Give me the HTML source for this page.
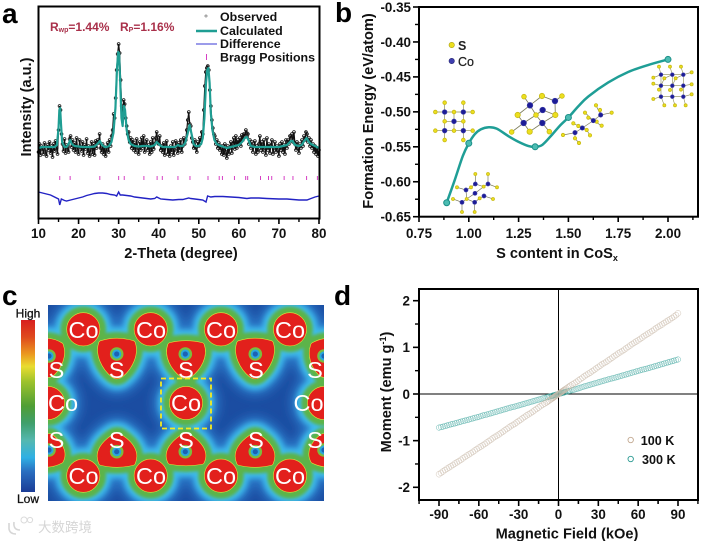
<!DOCTYPE html>
<html lang="en">
<head>
<meta charset="utf-8">
<title>CoSx characterisation figure</title>
<style>
html,body{margin:0;padding:0;background:#fff;}
#fig{display:block;width:702px;height:541px;font-family:"Liberation Sans",Arial,sans-serif;filter:blur(.35px);}
.tick{font-size:13.4px;font-weight:bold;fill:#111;}
.title{font-size:14.6px;font-weight:bold;fill:#111;text-anchor:middle;}
.leg{font-size:12.4px;font-weight:bold;fill:#111;}
.letter{font-size:28px;font-weight:bold;fill:#000;}
.w{fill:#fff;font-size:23.5px;text-anchor:middle;}
.sAtom{fill:#ecdf1e;stroke:#c9bb14;stroke-width:2.4;}
.coAtom{fill:#1c1c96;stroke:#3c3ca8;stroke-width:2;}
</style>
</head>
<body>
<svg id="fig" xmlns="http://www.w3.org/2000/svg" width="702" height="541" viewBox="0 0 702 541">
<defs>
  <linearGradient id="barGrad" x1="0" y1="0" x2="0" y2="1">
    <stop offset="0" stop-color="#d81f1f"/><stop offset=".1" stop-color="#df4a1e"/>
    <stop offset=".2" stop-color="#eb9a20"/><stop offset=".27" stop-color="#e9dc30"/>
    <stop offset=".36" stop-color="#9cc22c"/><stop offset=".5" stop-color="#4f9e35"/>
    <stop offset=".6" stop-color="#3f9f6c"/><stop offset=".7" stop-color="#55b8b0"/>
    <stop offset=".8" stop-color="#2fb0e4"/><stop offset=".88" stop-color="#2a6fc0"/>
    <stop offset="1" stop-color="#1b3c96"/>
  </linearGradient>
  <filter id="b6" x="-10%" y="-10%" width="120%" height="120%"><feGaussianBlur stdDeviation="5"/></filter>
  <filter id="b4" x="-10%" y="-10%" width="120%" height="120%"><feGaussianBlur stdDeviation="2.6"/></filter>
  <filter id="b2" x="-10%" y="-10%" width="120%" height="120%"><feGaussianBlur stdDeviation="1.5"/></filter>
  <filter id="b0" x="-10%" y="-10%" width="120%" height="120%"><feGaussianBlur stdDeviation=".35"/></filter>
  <clipPath id="mapClip"><rect x="48" y="305" width="276" height="196"/></clipPath>
  <g id="lobes">
    <circle cx="83.3" cy="329.3" r="14.3"/><circle cx="150.7" cy="329.3" r="14.3"/><circle cx="221" cy="329.3" r="14.3"/><circle cx="290" cy="329.3" r="14.3"/>
    <circle cx="83.3" cy="475.7" r="14.3"/><circle cx="150.7" cy="475.7" r="14.3"/><circle cx="221" cy="475.7" r="14.3"/><circle cx="290" cy="475.7" r="14.3"/>
    <circle cx="186" cy="403" r="14.3"/><circle cx="48" cy="403" r="14.3"/><circle cx="324" cy="403" r="14.3"/>
    <path d="M101,343Q117,338 133,343C137,354 130,368 121,375Q117,378 113,375C104,368 97,354 101,343Z"/>
    <path d="M170,345Q186,341 202,345C206,356 199,368 190,375Q186,378 182,375C173,368 166,356 170,345Z"/>
    <path d="M239,343Q255,338 271,343C275,354 268,368 259,375Q255,378 251,375C242,368 235,354 239,343Z"/>
    <path d="M36,342Q50,338 61,345C65,356 59,367 53,373Q49,377 45,373Z"/>
    <path d="M313,345Q325,338 340,342L328,373Q324,377 320,373C314,367 309,356 313,345Z"/>
    <path d="M101,463Q117,467 133,463C138,452 130,443 121,437Q117,434 113,437C104,443 96,452 101,463Z"/>
    <path d="M170,462Q186,465 202,462C207,452 199,443 190,437Q186,434 182,437C173,443 165,452 170,462Z"/>
    <path d="M239,463Q255,467 271,463C276,452 268,443 259,437Q255,434 251,437C242,443 234,452 239,463Z"/>
    <path d="M36,464Q50,467 61,461C66,452 59,443 53,438Q49,434 45,438Z"/>
    <path d="M313,461Q325,467 340,464L328,438Q324,434 320,438C314,443 308,452 313,461Z"/>
  </g>
</defs>
<rect width="702" height="541" fill="#fff"/>

<text class="letter" x="2" y="23">a</text>
<text class="letter" x="335" y="22">b</text>
<text class="letter" x="2" y="305">c</text>
<text class="letter" x="334" y="305">d</text>

<!-- PANEL A -->
<g id="panelA">
  <text class="title" transform="translate(31,107) rotate(-90)">Intensity (a.u.)</text>
  <text class="title" x="181" y="258">2-Theta (degree)</text>
  <text x="50" y="31" font-size="12" font-weight="bold" fill="#a9304a">R<tspan font-size="7" dy="1">wp</tspan><tspan dy="-1">=1.44%</tspan></text>
  <text x="120" y="31" font-size="12" font-weight="bold" fill="#a9304a">R<tspan font-size="7" dy="1">P</tspan><tspan dy="-1">=1.16%</tspan></text>
  <g>
    <circle cx="206" cy="16" r="1.1" fill="none" stroke="#666" stroke-width=".6"/>
    <line x1="196" x2="217" y1="31" y2="31" stroke="#1f9e93" stroke-width="2.4"/>
    <line x1="196" x2="217" y1="44" y2="44" stroke="#3a3ad4" stroke-width="1"/>
    <line x1="206.5" x2="206.5" y1="54" y2="60" stroke="#d63fc4" stroke-width="1"/>
    <text class="leg" x="220" y="21">Observed</text>
    <text class="leg" x="220" y="35">Calculated</text>
    <text class="leg" x="220" y="48">Difference</text>
    <text class="leg" x="220" y="61.5">Bragg Positions</text>
  </g>
</g>

<!-- PANEL B -->
<g id="panelB">
  <text class="title" transform="translate(373,111) rotate(-90)">Formation Energy (eV/atom)</text>
  <text class="title" x="557" y="258">S content in CoS<tspan font-size="9" dy="3">x</tspan></text>
  <g>
    <circle cx="451.7" cy="45" r="2.7" fill="#ecdf1e" stroke="#a99c12" stroke-width=".6"/>
    <circle cx="451.7" cy="61" r="2.7" fill="#3f3fb0" stroke="#24246e" stroke-width=".6"/>
    <text x="458" y="50" font-size="12.5" font-weight="bold" fill="#222">S</text>
    <text x="458" y="66" font-size="12.5" fill="#222" stroke="#222" stroke-width=".25">Co</text>
  </g>
  <g transform="translate(425,90) scale(.3333)">
    <path d="M59,38V150M115,38V150M31,66H143M31,122H143M59,94H115M87,66V122" stroke="#8a8a55" stroke-width="2" fill="none"/>
    <g><circle class="sAtom" cx="59" cy="38" r="5.5"/><circle class="sAtom" cx="115" cy="38" r="5.5"/><circle class="sAtom" cx="31" cy="66" r="5.5"/><circle class="sAtom" cx="87" cy="66" r="5.5"/><circle class="sAtom" cx="143" cy="66" r="5.5"/><circle class="sAtom" cx="59" cy="94" r="5.5"/><circle class="sAtom" cx="115" cy="94" r="5.5"/><circle class="sAtom" cx="31" cy="122" r="5.5"/><circle class="sAtom" cx="87" cy="122" r="5.5"/><circle class="sAtom" cx="143" cy="122" r="5.5"/><circle class="sAtom" cx="59" cy="150" r="5.5"/><circle class="sAtom" cx="115" cy="150" r="5.5"/></g>
    <g><circle class="coAtom" cx="59" cy="66" r="7"/><circle class="coAtom" cx="115" cy="66" r="7"/><circle class="coAtom" cx="87" cy="94" r="7"/><circle class="coAtom" cx="59" cy="122" r="7"/><circle class="coAtom" cx="115" cy="122" r="7"/></g>
  </g>
  <g transform="translate(425,90) scale(.3333)">
    <path d="M151,252V282L138,292M151,282L176,290M189,252V282L216,292M189,282L176,290M96,292L123,300L138,292M123,300L125,327M84,327L111,337L125,327M111,337V366M149,366V337L164,325M125,327L149,337M150,310L176,290M150,310L125,327M177,318L204,327M177,318L164,325" stroke="#77775a" stroke-width="2" fill="none"/>
    <g><circle class="sAtom" cx="151" cy="252" r="4.5"/><circle class="sAtom" cx="189" cy="252" r="4.5"/><circle class="sAtom" cx="96" cy="292" r="4.5"/><circle class="sAtom" cx="138" cy="292" r="4.5"/><circle class="sAtom" cx="176" cy="290" r="4.5"/><circle class="sAtom" cx="216" cy="292" r="4.5"/><circle class="sAtom" cx="84" cy="327" r="4.5"/><circle class="sAtom" cx="125" cy="327" r="4.5"/><circle class="sAtom" cx="164" cy="325" r="4.5"/><circle class="sAtom" cx="204" cy="327" r="4.5"/><circle class="sAtom" cx="111" cy="366" r="4.5"/><circle class="sAtom" cx="149" cy="366" r="4.5"/></g>
    <g><circle class="coAtom" cx="151" cy="282" r="6"/><circle class="coAtom" cx="189" cy="282" r="6"/><circle class="coAtom" cx="123" cy="300" r="6"/><circle class="coAtom" cx="150" cy="310" r="6"/><circle class="coAtom" cx="177" cy="318" r="6"/><circle class="coAtom" cx="111" cy="337" r="6"/><circle class="coAtom" cx="149" cy="337" r="6"/></g>
  </g>
  <g transform="translate(425,90) scale(.3333)">
    <path d="M297,20L315,46L351,18M315,46L278,75M315,46L333,75M351,18L390,33L411,18M390,33L391,75M353,60L333,75M353,60L391,75M278,75L296,99L260,126M296,99L333,75M296,99L314,125M352,99L333,75M352,99L391,75M352,99L314,125M352,99L373,125" stroke="#7b7b5a" stroke-width="2.5" fill="none"/>
    <g><circle class="sAtom" cx="297" cy="20" r="7"/><circle class="sAtom" cx="351" cy="18" r="8"/><circle class="sAtom" cx="411" cy="18" r="7"/><circle class="sAtom" cx="278" cy="75" r="8"/><circle class="sAtom" cx="333" cy="75" r="7"/><circle class="sAtom" cx="391" cy="75" r="8"/><circle class="sAtom" cx="314" cy="125" r="8"/><circle class="sAtom" cx="373" cy="125" r="7"/><circle class="sAtom" cx="260" cy="126" r="7"/></g>
    <g><circle class="coAtom" cx="315" cy="46" r="8.5"/><circle class="coAtom" cx="353" cy="60" r="8.5"/><circle class="coAtom" cx="390" cy="33" r="8.5"/><circle class="coAtom" cx="296" cy="99" r="8.5"/><circle class="coAtom" cx="352" cy="99" r="8.5"/></g>
  </g>
  <g transform="translate(555,55) scale(.3333)">
    <path d="M123,151L137,180L170,173M137,180L135,165M137,180L115,197L90,173M115,197L100,188M115,197L140,212M115,197L82,219L55,205M82,219L70,213M82,219L95,225L105,241M82,219L60,233L24,240M60,233L60,250L72,264" stroke="#7b7b5a" stroke-width="2" fill="none"/>
    <g><circle class="sAtom" cx="123" cy="151" r="5"/><circle class="sAtom" cx="170" cy="173" r="5"/><circle class="sAtom" cx="90" cy="173" r="5"/><circle class="sAtom" cx="100" cy="188" r="5"/><circle class="sAtom" cx="135" cy="165" r="5"/><circle class="sAtom" cx="140" cy="212" r="5"/><circle class="sAtom" cx="125" cy="200" r="5"/><circle class="sAtom" cx="55" cy="205" r="5"/><circle class="sAtom" cx="70" cy="213" r="5"/><circle class="sAtom" cx="95" cy="225" r="5"/><circle class="sAtom" cx="105" cy="241" r="5"/><circle class="sAtom" cx="24" cy="240" r="5"/><circle class="sAtom" cx="60" cy="250" r="5"/><circle class="sAtom" cx="72" cy="264" r="5"/></g>
    <g><circle class="coAtom" cx="137" cy="180" r="6.5"/><circle class="coAtom" cx="115" cy="197" r="6.5"/><circle class="coAtom" cx="82" cy="219" r="6.5"/><circle class="coAtom" cx="60" cy="233" r="6.5"/></g>
  </g>
  <g transform="translate(555,55) scale(.3333)">
    <path d="M312,35L318,59L295,68M345,35L352,59L328,70M378,35L385,59L362,70M410,52L385,59M295,86L318,92L328,70M352,92L362,70M385,92L410,88M318,92L312,104M352,92L345,105M385,92L378,104M295,132L318,125L328,151M352,125L360,151M385,125L392,151M385,125L410,118M318,59V125M352,59V125M385,59V125M318,92H385M318,125H385M318,59H385" stroke="#8a8a55" stroke-width="1.8" fill="none"/>
    <g><circle class="sAtom" cx="312" cy="35" r="4.5"/><circle class="sAtom" cx="345" cy="35" r="4.5"/><circle class="sAtom" cx="378" cy="35" r="4.5"/><circle class="sAtom" cx="410" cy="52" r="4.5"/><circle class="sAtom" cx="295" cy="68" r="4.5"/><circle class="sAtom" cx="295" cy="86" r="4.5"/><circle class="sAtom" cx="328" cy="70" r="4.5"/><circle class="sAtom" cx="362" cy="70" r="4.5"/><circle class="sAtom" cx="410" cy="88" r="4.5"/><circle class="sAtom" cx="312" cy="104" r="4.5"/><circle class="sAtom" cx="345" cy="105" r="4.5"/><circle class="sAtom" cx="378" cy="104" r="4.5"/><circle class="sAtom" cx="295" cy="132" r="4.5"/><circle class="sAtom" cx="410" cy="118" r="4.5"/><circle class="sAtom" cx="328" cy="151" r="4.5"/><circle class="sAtom" cx="360" cy="151" r="4.5"/><circle class="sAtom" cx="392" cy="151" r="4.5"/></g>
    <g><circle class="coAtom" cx="318" cy="59" r="5.5"/><circle class="coAtom" cx="352" cy="59" r="5.5"/><circle class="coAtom" cx="385" cy="59" r="5.5"/><circle class="coAtom" cx="318" cy="92" r="5.5"/><circle class="coAtom" cx="352" cy="92" r="5.5"/><circle class="coAtom" cx="385" cy="92" r="5.5"/><circle class="coAtom" cx="318" cy="125" r="5.5"/><circle class="coAtom" cx="352" cy="125" r="5.5"/><circle class="coAtom" cx="385" cy="125" r="5.5"/></g>
  </g>
</g>

<!-- PANEL C -->
<g>
  <rect x="21" y="320" width="14" height="172" fill="url(#barGrad)"/>
  <text x="28" y="317.5" text-anchor="middle" font-size="12" fill="#111" stroke="#111" stroke-width=".3">High</text>
  <text x="28" y="503" text-anchor="middle" font-size="12" fill="#111" stroke="#111" stroke-width=".3">Low</text>
  <g clip-path="url(#mapClip)">
    <rect x="48" y="305" width="276" height="196" fill="#1b4da2"/>
    <use href="#lobes" fill="#2a78c8" stroke="#2a78c8" stroke-width="38" stroke-linejoin="round" filter="url(#b6)"/>
    <use href="#lobes" fill="#3cbcec" stroke="#3cbcec" stroke-width="27" stroke-linejoin="round" filter="url(#b4)"/>
    <use href="#lobes" fill="#5cb44a" stroke="#5cb44a" stroke-width="17" stroke-linejoin="round" filter="url(#b2)"/>
    <use href="#lobes" fill="#e6dc3a" stroke="#e6dc3a" stroke-width="5.2" stroke-linejoin="round" filter="url(#b0)"/>
    <use href="#lobes" fill="#e2201c" stroke="#e2201c" stroke-width="4" stroke-linejoin="round"/>
    <g>
      <g fill="#7cbc3e" filter="url(#b0)"><circle cx="116.7" cy="354" r="6.8"/><circle cx="185.3" cy="354" r="6.8"/><circle cx="255.3" cy="354" r="6.8"/><circle cx="49" cy="356" r="6.8"/><circle cx="324" cy="356" r="6.8"/><circle cx="116.7" cy="451.7" r="6.8"/><circle cx="185.3" cy="451.7" r="6.8"/><circle cx="255.3" cy="451.7" r="6.8"/><circle cx="49" cy="450" r="6.8"/><circle cx="324" cy="450" r="6.8"/></g>
      <g fill="#2aa8dc" filter="url(#b0)"><circle cx="116.7" cy="354" r="4.6"/><circle cx="185.3" cy="354" r="4.6"/><circle cx="255.3" cy="354" r="4.6"/><circle cx="49" cy="356" r="4.6"/><circle cx="324" cy="356" r="4.6"/><circle cx="116.7" cy="451.7" r="4.6"/><circle cx="185.3" cy="451.7" r="4.6"/><circle cx="255.3" cy="451.7" r="4.6"/><circle cx="49" cy="450" r="4.6"/><circle cx="324" cy="450" r="4.6"/></g>
      <g fill="#1f62b4" filter="url(#b0)"><circle cx="116.7" cy="354" r="2.6"/><circle cx="185.3" cy="354" r="2.6"/><circle cx="255.3" cy="354" r="2.6"/><circle cx="49" cy="356" r="2.6"/><circle cx="324" cy="356" r="2.6"/><circle cx="116.7" cy="451.7" r="2.6"/><circle cx="185.3" cy="451.7" r="2.6"/><circle cx="255.3" cy="451.7" r="2.6"/><circle cx="49" cy="450" r="2.6"/><circle cx="324" cy="450" r="2.6"/></g>
    </g>
    <g>
      <text class="w" x="83.5" y="338">Co</text><text class="w" x="151" y="338">Co</text><text class="w" x="221" y="338">Co</text><text class="w" x="290" y="338">Co</text>
      <text class="w" x="83.5" y="484">Co</text><text class="w" x="151" y="484">Co</text><text class="w" x="221" y="484">Co</text><text class="w" x="290" y="484">Co</text>
      <text class="w" x="186" y="411">Co</text><text class="w" x="63" y="411">Co</text><text class="w" x="308.5" y="411">Co</text>
      <text class="w" x="116.7" y="378">S</text><text class="w" x="186" y="378">S</text><text class="w" x="256" y="378">S</text><text class="w" x="56.5" y="378">S</text><text class="w" x="315" y="378">S</text>
      <text class="w" x="116.7" y="448">S</text><text class="w" x="186" y="448">S</text><text class="w" x="256" y="448">S</text><text class="w" x="56.5" y="448">S</text><text class="w" x="315" y="448">S</text>
    </g>
    <rect x="161" y="378.5" width="50" height="50" fill="none" stroke="#f6ea20" stroke-width="1.8" stroke-dasharray="5 3"/>
  </g>
</g>

<!-- watermark -->
<g opacity=".75">
  <path d="M9,523V529Q10,534 16,534M14,522Q13,530 20,530" fill="none" stroke="#c9c9c9" stroke-width="1.6"/>
  <circle cx="24" cy="520" r="3" fill="none" stroke="#cfcfcf" stroke-width="1"/>
  <circle cx="30" cy="520" r="2.6" fill="none" stroke="#cfcfcf" stroke-width="1"/>
  <text x="38" y="532" font-size="13.5" fill="#c8c8c8" style="font-family:'Liberation Sans','Noto Sans CJK SC',sans-serif">大数跨境</text>
</g>

<!-- PANEL D -->
<g id="panelD">
  <text class="title" transform="translate(391,392) rotate(-90)">Moment (emu g<tspan font-size="9" dy="-5">-1</tspan><tspan dy="5">)</tspan></text>
  <text class="title" x="567" y="538.5">Magnetic Field (kOe)</text>
  <text class="leg" x="640.7" y="445" style="font-size:12.6px">100 K</text>
  <text class="leg" x="642" y="464" style="font-size:12.6px">300 K</text>
</g>

<script>
// ---------- Panel A data (2-theta in degrees, intensity in arbitrary units) ----------
const xrdTicks = [10,20,30,40,50,60,70,80];
const xrdMinorTicks = [15,25,35,45,55,65,75];
const obsStart = 10;
const obsStep = 0.25;
const observed = [
66,74,63,72, 69,64,75,66, 62,73,68,76, 65,72,61,74, 67,77,70,64,
88,112,108,84, 74,67,79,65, 73,69,66,79, 82,71,78,68, 75,66,80,69,
64,78,71,67, 76,63,73,69, 79,65,72,62, 68,76,64,74, 63,77,70,78,
75,84,70,66, 74,64,71,62, 69,75,66,78, 72,82,88,104, 100,120,148,164,
174,165,138,112, 100,118,114,100, 92,84,86,76, 80,70,78,68, 75,66,79,70,
64,76,68,80, 70,82,66,74, 78,68,73,64, 76,66,80,69, 74,80,86,78,
74,82,68,72, 66,75,63,72, 77,64,70,62, 72,66,76,63, 68,77,72,65,
75,68,78,66, 72,80,74,78, 88,98,106,94, 92,80,76,70, 78,70,66,76,
72,80,76,86, 84,108,132,146, 150,152,148,128, 112,98,90,84, 82,74,78,70,
75,68,72,64, 72,63,74,66, 60,72,64,70, 76,65,74,80, 69,82,70,78,
74,80,72,83, 78,84,82,88, 85,84,74,78, 70,76,66,72, 77,64,72,66,
74,82,68,76, 66,78,70,63, 80,68,74,65, 72,78,64,70, 76,66,72,68,
62,74,68,76, 66,73,64,78, 70,78,74,82, 80,84,76,86, 74,68,76,70,
65,74,70,78, 72,82,78,86, 84,76,80,72, 78,70,74,66, 72,64,70,62, 68];
const calcTheta = [10,11,12,13,14,14.6,15,15.2,15.4,15.6,15.9,16.5,17,17.5,17.9,18.3,19,20,21,22,23,24,24.7,25.3,25.9,26.5,27,27.6,28.2,28.7,29.2,29.6,29.9,30.1,30.4,30.7,31,31.3,31.6,32,32.5,33,34,35,36,37,38,39,39.5,40,40.5,41,42,43,44,44.8,45.3,46,46.6,47.2,47.7,48.2,48.7,49.2,50,50.6,51,51.4,51.8,52.1,52.4,52.7,53,53.4,53.9,54.5,55.5,57,58,59,60,60.8,61.5,62,62.5,63,64,66,68,70,71,72,73,73.4,74,75,75.7,76.3,76.9,77.5,78,79,80];
const calcIntensity = [70,71,71,71,71,73,90,108,110,95,76,71,71,74,78,74,72,71.5,71,71,71,71.5,74,77,73,71,71,72,76,85,110,150,166,165,135,100,92,112,108,88,78,74,72,71.5,72,72,71.5,73,76,74,72,71,71,71,71,73,72,72,75,84,93,84,74,72,72,74,80,100,135,148,150,135,105,88,78,74,72,70,71,72,73,76,80,81,77,72,71,71,71,71,72,73,77,77,73,72,73,77,80,76,74,72,70];
const diffTheta = [10,11,12,13,14,15,15.3,15.7,16.5,17,18,19,20,21,22,23,24,25,26,27,28,29,29.5,30,30.4,31,32,33,34,35,36,37,38,39,39.5,40.5,42,43.5,45,46,47.5,48,49,50,51,51.8,52.2,53,54,56,58,60,62,63,65,67,70,72,75,77,78,79,80];
const diffIntensity = [26,25,24,23,21,19,13,19,17.5,17,18,19,20,21,22.5,23.5,24.5,25,25,24.5,23.5,23,22,26,23,23,22.5,22,21,20.5,20,19.5,19,19.5,21,19,18.5,18,18.5,18.5,20,19.5,19,18.5,18,16,22,21,21.5,21.5,21,20.5,19.5,20,20,19.5,19,19,18,18,19.5,21,22];
const braggPositions = [15.3,17.9,25.3,30,31.4,36.3,39.6,40.9,44.8,47.8,52.3,55.1,55.9,58.9,61.7,62.2,65.4,67.4,68.2,71.3,73.5,76.9,79.6];
const braggLevel = 40;

// ---------- Panel B data ----------
const energyXTicks = [0.75,1.00,1.25,1.50,1.75,2.00];
const energyYTicks = [-0.35,-0.40,-0.45,-0.50,-0.55,-0.60,-0.65];
const phaseContent = [0.889,1.0,1.333,1.5,2.0];
const phaseEnergy = [-0.63,-0.545,-0.55,-0.508,-0.425];
const curveContent = [0.889,0.93,0.97,1.0,1.03,1.06,1.10,1.14,1.2,1.25,1.3,1.333,1.37,1.42,1.46,1.5,1.55,1.6,1.7,1.8,1.9,2.0];
const curveEnergy = [-0.63,-0.597,-0.563,-0.545,-0.532,-0.525,-0.522,-0.524,-0.535,-0.543,-0.549,-0.55,-0.547,-0.532,-0.519,-0.508,-0.492,-0.478,-0.458,-0.443,-0.433,-0.425];

// ---------- Panel D data ----------
const fieldTicks = [-90,-60,-30,0,30,60,90];
const momentTicks = [2,1,0,-1,-2];
const field = [
-90,-88.5,-87,-85.5,-84,-82.5,-81,-79.5,-78,-76.5,-75,-73.5,-72,-70.5,-69,-67.5,-66,-64.5,-63,-61.5,-60,-58.5,-57,-55.5,-54,-52.5,-51,-49.5,-48,-46.5,-45,-43.5,-42,-40.5,-39,-37.5,-36,-34.5,-33,-31.5,-30,-28.5,-27,-25.5,-24,-22.5,-21,-19.5,-18,-16.5,-15,-13.5,-12,-10.5,
-9,-8,-7,-6,-5,-4.5,-4,-3.5,-3,-2.5,-2,-1.5,-1,-0.5,0,0.5,1,1.5,2,2.5,3,3.5,4,4.5,5,6,7,8,9,
10.5,12,13.5,15,16.5,18,19.5,21,22.5,24,25.5,27,28.5,30,31.5,33,34.5,36,37.5,39,40.5,42,43.5,45,46.5,48,49.5,51,52.5,54,55.5,57,58.5,60,61.5,63,64.5,66,67.5,69,70.5,72,73.5,75,76.5,78,79.5,81,82.5,84,85.5,87,88.5,90];
const moment100K = [
-1.72,-1.69,-1.66,-1.63,-1.60,-1.575,-1.55,-1.52,-1.49,-1.465,-1.44,-1.41,-1.38,-1.35,-1.32,-1.295,-1.27,-1.24,-1.21,-1.18,-1.15,-1.125,-1.10,-1.07,-1.04,-1.01,-0.98,-0.95,-0.92,-0.895,-0.87,-0.84,-0.81,-0.78,-0.75,-0.72,-0.69,-0.665,-0.64,-0.61,-0.58,-0.55,-0.52,-0.49,-0.46,-0.435,-0.41,-0.38,-0.35,-0.32,-0.29,-0.26,-0.23,-0.205,
-0.18,-0.16,-0.14,-0.12,-0.10,-0.09,-0.08,-0.07,-0.06,-0.05,-0.04,-0.03,-0.02,-0.01,0,0.01,0.02,0.03,0.04,0.05,0.06,0.07,0.08,0.09,0.10,0.12,0.14,0.16,0.18,
0.205,0.23,0.26,0.29,0.32,0.35,0.38,0.41,0.435,0.46,0.49,0.52,0.55,0.58,0.61,0.64,0.665,0.69,0.72,0.75,0.78,0.81,0.84,0.87,0.895,0.92,0.95,0.98,1.01,1.04,1.07,1.10,1.125,1.15,1.18,1.21,1.24,1.27,1.295,1.32,1.35,1.38,1.41,1.44,1.465,1.49,1.52,1.55,1.575,1.60,1.63,1.66,1.69,1.73];
const moment300K = [
-0.72,-0.71,-0.70,-0.688,-0.675,-0.663,-0.65,-0.64,-0.63,-0.618,-0.605,-0.593,-0.58,-0.57,-0.56,-0.548,-0.535,-0.523,-0.51,-0.50,-0.49,-0.475,-0.46,-0.45,-0.44,-0.428,-0.415,-0.403,-0.39,-0.378,-0.365,-0.353,-0.34,-0.328,-0.315,-0.303,-0.29,-0.28,-0.27,-0.258,-0.245,-0.233,-0.22,-0.208,-0.195,-0.183,-0.17,-0.158,-0.145,-0.133,-0.12,-0.108,-0.095,-0.083,
-0.07,-0.065,-0.055,-0.05,-0.04,-0.037,-0.03,-0.028,-0.025,-0.02,-0.015,-0.012,-0.01,-0.005,0,0.005,0.01,0.012,0.015,0.02,0.025,0.028,0.03,0.037,0.04,0.05,0.055,0.065,0.07,
0.083,0.095,0.108,0.12,0.135,0.15,0.163,0.175,0.188,0.2,0.213,0.225,0.238,0.25,0.263,0.275,0.288,0.3,0.313,0.325,0.335,0.345,0.358,0.37,0.383,0.395,0.408,0.42,0.433,0.445,0.458,0.47,0.483,0.495,0.508,0.52,0.53,0.54,0.553,0.565,0.578,0.59,0.603,0.615,0.628,0.64,0.653,0.665,0.678,0.69,0.703,0.715,0.728,0.74];

// ---------- helpers ----------
const NS = 'http://www.w3.org/2000/svg';
function make(parent, tag, attrs) {
  const e = document.createElementNS(NS, tag);
  for (const k in attrs) e.setAttribute(k, attrs[k]);
  parent.appendChild(e);
  return e;
}
function smoothPath(pts) {
  let d = 'M' + pts[0][0].toFixed(2) + ',' + pts[0][1].toFixed(2);
  for (let i = 0; i < pts.length - 1; i++) {
    const p0 = pts[Math.max(i - 1, 0)], p1 = pts[i], p2 = pts[i + 1], p3 = pts[Math.min(i + 2, pts.length - 1)];
    const c1x = p1[0] + (p2[0] - p0[0]) / 6, c1y = p1[1] + (p2[1] - p0[1]) / 6;
    const c2x = p2[0] - (p3[0] - p1[0]) / 6, c2y = p2[1] - (p3[1] - p1[1]) / 6;
    d += 'C' + c1x.toFixed(2) + ',' + c1y.toFixed(2) + ' ' + c2x.toFixed(2) + ',' + c2y.toFixed(2) + ' ' + p2[0].toFixed(2) + ',' + p2[1].toFixed(2);
  }
  return d;
}
function linePath(pts) {
  return 'M' + pts.map(p => p[0].toFixed(2) + ',' + p[1].toFixed(2)).join('L');
}

// ---------- Panel A ----------
const pa = document.getElementById('panelA');
const xA = v => 38.5 + (v - 10) * (319 - 38.5) / 70;
const yA = v => 218 - v;
const obsTrace = make(pa, 'path', {d: linePath(observed.map((v, i) => [xA(obsStart + i * obsStep), yA(v)])), fill: 'none', stroke: '#111', 'stroke-width': 1.2});


const obsGroup = make(pa, 'g', {fill: 'none', stroke: '#111', 'stroke-width': 0.8});


observed.forEach((v, i) => {
  const c = make(obsGroup, 'circle', {cx: xA(obsStart + i * obsStep), cy: yA(v), r: 1.4});
  
  
});
const calcLine = make(pa, 'path', {d: linePath(calcTheta.map((t, i) => [xA(t), yA(calcIntensity[i])])), fill: 'none', stroke: '#1f9e93', 'stroke-width': 2.2, 'stroke-linejoin': 'round'});


const diffLine = make(pa, 'path', {d: linePath(diffTheta.map((t, i) => [xA(t), yA(diffIntensity[i])])), fill: 'none', stroke: '#2222c4', 'stroke-width': 1.4});


braggPositions.forEach(t => {
  const b = make(pa, 'line', {x1: xA(t), x2: xA(t), y1: yA(braggLevel) - 2, y2: yA(braggLevel) + 2, stroke: '#d63fc4', 'stroke-width': 1});
  
  
});
const frameA = make(pa, 'rect', {x: 38.5, y: 6.5, width: 281, height: 212, fill: 'none', stroke: '#000', 'stroke-width': 2});


xrdTicks.forEach(t => {
  const m = make(pa, 'line', {x1: xA(t), x2: xA(t), y1: 218, y2: 224, stroke: '#000', 'stroke-width': 1.6});
  
  
  const l = make(pa, 'text', {x: xA(t), y: 238, 'text-anchor': 'middle', class: 'tick'});
  
  
  l.textContent = t;
});
xrdMinorTicks.forEach(t => {
  const m = make(pa, 'line', {x1: xA(t), x2: xA(t), y1: 218, y2: 222, stroke: '#000', 'stroke-width': 1.4});
  
  
});

// ---------- Panel B ----------
const pb = document.getElementById('panelB');
const xB = v => 419 + (v - 0.75) * (668 - 419) / 1.25;
const yB = v => 7 + (-0.35 - v) * (216.7 - 7) / 0.3;
const frameB = make(pb, 'rect', {x: 419, y: 7, width: 279, height: 209.7, fill: 'none', stroke: '#000', 'stroke-width': 2});


energyXTicks.forEach((t, i) => {
  const m = make(pb, 'line', {x1: xB(t), x2: xB(t), y1: 216, y2: 222, stroke: '#000', 'stroke-width': 1.6});
  
  
  const n = make(pb, 'line', {x1: xB(t + 0.125), x2: xB(t + 0.125), y1: 216, y2: 220, stroke: '#000', 'stroke-width': 1.4});
  
  
  const l = make(pb, 'text', {x: xB(t), y: 238, 'text-anchor': 'middle', class: 'tick'});
  
  
  l.textContent = t.toFixed(2);
});
energyYTicks.forEach((t, i) => {
  const m = make(pb, 'line', {x1: 413, x2: 419, y1: yB(t), y2: yB(t), stroke: '#000', 'stroke-width': 1.6});
  
  
  if (i < energyYTicks.length - 1) {
    const n = make(pb, 'line', {x1: 415, x2: 419, y1: yB(t - 0.025), y2: yB(t - 0.025), stroke: '#000', 'stroke-width': 1.4});
    
    
  }
  const l = make(pb, 'text', {x: 411, y: yB(t) + 4.8, 'text-anchor': 'end', class: 'tick'});
  
  
  l.textContent = t.toFixed(2);
});
const energyCurve = make(pb, 'path', {d: smoothPath(curveContent.map((x, i) => [xB(x), yB(curveEnergy[i])])), fill: 'none', stroke: '#1f9e96', 'stroke-width': 2.5, 'stroke-linecap': 'round'});


phaseContent.forEach((x, i) => {
  const c = make(pb, 'circle', {cx: xB(x), cy: yB(phaseEnergy[i]), r: 3, fill: '#4bbcb2', stroke: '#1c8f88', 'stroke-width': 1});
  
  
});

// ---------- Panel D ----------
const pd = document.getElementById('panelD');
const xD = v => 558.5 + v * (678 - 439) / 180;
const yD = v => 394 - v * (487.3 - 300.7) / 4;
const frameD = make(pd, 'rect', {x: 419, y: 289, width: 279, height: 211, fill: 'none', stroke: '#000', 'stroke-width': 2});


const zeroV = make(pd, 'line', {x1: xD(0), x2: xD(0), y1: 289, y2: 500, stroke: '#000', 'stroke-width': 1});


const zeroH = make(pd, 'line', {x1: 419, x2: 698, y1: yD(0), y2: yD(0), stroke: '#000', 'stroke-width': 1});


const g300 = make(pd, 'g', {fill: 'none', stroke: '#3fa59e', 'stroke-width': 0.45, 'stroke-opacity': 0.85});


const g100 = make(pd, 'g', {fill: 'none', stroke: '#c9baa9', 'stroke-width': 0.5, 'stroke-opacity': 0.85});


field.forEach((f, i) => {
  const a = make(g300, 'circle', {cx: xD(f), cy: yD(moment300K[i]), r: 2.7});
  
  
});
field.forEach((f, i) => {
  const b = make(g100, 'circle', {cx: xD(f), cy: yD(moment100K[i]), r: 2.9});
  
  
});
const legM100 = make(pd, 'circle', {cx: 630.7, cy: 440, r: 2.7, fill: 'none', stroke: '#c2a890', 'stroke-width': 0.9});


const legM300 = make(pd, 'circle', {cx: 630.7, cy: 459, r: 2.7, fill: 'none', stroke: '#2a9a92', 'stroke-width': 0.9});


fieldTicks.forEach((t, i) => {
  const m = make(pd, 'line', {x1: xD(t), x2: xD(t), y1: 500, y2: 506, stroke: '#000', 'stroke-width': 1.6});
  
  
  const l = make(pd, 'text', {x: xD(t), y: 519, 'text-anchor': 'middle', class: 'tick'});
  
  
  l.textContent = t;
  [-15, 15].forEach(o => {
    const n = make(pd, 'line', {x1: xD(t + o), x2: xD(t + o), y1: 500, y2: 504, stroke: '#000', 'stroke-width': 1.4});
    
    
  });
});
momentTicks.forEach((t, i) => {
  const m = make(pd, 'line', {x1: 413, x2: 419, y1: yD(t), y2: yD(t), stroke: '#000', 'stroke-width': 1.6});
  
  
  const l = make(pd, 'text', {x: 410, y: yD(t) + 4.8, 'text-anchor': 'end', class: 'tick'});
  
  
  l.textContent = t;
  if (i < momentTicks.length - 1) {
    const n = make(pd, 'line', {x1: 415, x2: 419, y1: yD(t - 0.5), y2: yD(t - 0.5), stroke: '#000', 'stroke-width': 1.4});
    
    
  }
});
</script>
</svg>
</body>
</html>
